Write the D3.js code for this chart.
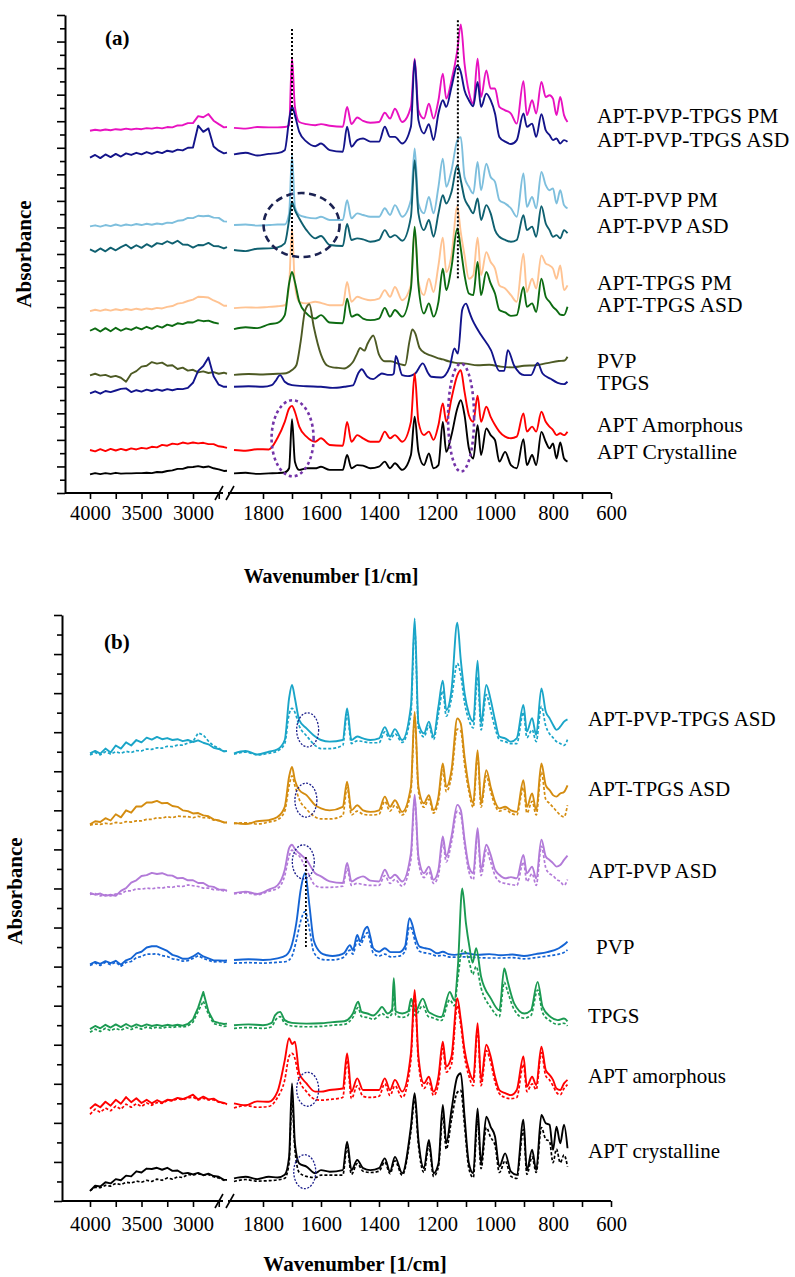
<!DOCTYPE html>
<html>
<head>
<meta charset="utf-8">
<script src="https://cdn.jsdelivr.net/npm/d3@7/dist/d3.min.js"></script>
<style>
  body { margin: 0; background: #fff; }
  svg text { font-family: "Liberation Serif", "Times New Roman", serif; fill: #000; }
</style>
</head>
<body>
<svg id="chart" width="795" height="1277"></svg>
<script>
// ---- wavenumber grids (1/cm) ----
const wnLeft = [4000, 3950, 3900, 3850, 3800, 3750, 3700, 3650, 3600, 3550, 3500, 3450, 3400, 3350,
  3300, 3250, 3200, 3150, 3100, 3050, 3000, 2950, 2900, 2850, 2800, 2750, 2700, 2670];
const wnApt = [1900, 1860, 1820, 1780, 1750, 1725, 1710, 1700, 1690, 1675, 1650, 1620, 1600, 1570, 1525, 1510, 1495,
  1475, 1455, 1430, 1400, 1380, 1362, 1345, 1320, 1290, 1277, 1264, 1245, 1228, 1212, 1195, 1180,
  1168, 1150, 1130, 1118, 1105, 1090, 1075, 1060, 1048, 1030, 1015, 1000, 985, 965, 945, 925, 902,
  890, 872, 858, 840, 825, 812, 800, 788, 775, 762, 750];
const wnPvp = [1900, 1850, 1800, 1750, 1720, 1700, 1685, 1670, 1655, 1640, 1625, 1600, 1580, 1560,
  1540, 1520, 1500, 1490, 1475, 1465, 1450, 1440, 1430, 1420, 1400, 1380, 1360, 1330, 1310, 1295,
  1285, 1275, 1260, 1240, 1220, 1200, 1180, 1160, 1140, 1100, 1060, 1020, 980, 940, 900, 860, 820,
  780, 760, 750];
const wnTpgs = [1900, 1850, 1800, 1770, 1758, 1741, 1725, 1700, 1650, 1600, 1560, 1520, 1490, 1472,
  1460, 1440, 1420, 1400, 1390, 1370, 1355, 1349, 1342, 1320, 1300, 1289, 1275, 1249, 1230, 1220,
  1185, 1156, 1140, 1128, 1113, 1100, 1088, 1077, 1065, 1048, 1014, 985, 968, 956, 934, 899, 876,
  853, 836, 808, 784, 762, 750];

// ---- panel (a): absorbance above each trace's offset ----
const namesA = ["APT-PVP-TPGS PM", "APT-PVP-TPGS ASD", "APT-PVP PM", "APT-PVP ASD", "APT-TPGS PM",
  "APT-TPGS ASD", "PVP", "TPGS", "APT Amorphous", "APT Crystalline"];
const offsetsA = [13.75, 12.75, 10.09, 9.15, 7.01, 6.26, 4.51, 4.00, 1.62, 0.74];

const aTernPmL = [-0.11, -0.07, -0.1, -0.06, -0.09, -0.05, -0.07, -0.03, -0.06, -0.03, -0.05, -0.01, -0.03, 0.01,
  -0.02, 0.03, 0.02, 0.09, 0.1, 0.18, 0.18, 0.44, 0.4, 0.52, 0.27, 0.14, 0.02, 0.03];
const aTernAsdL = [-0.12, -0.02, -0.14, 0, -0.1, 0.02, -0.08, 0.04, -0.02, 0.06, 0, 0.09, 0.02, 0.1,
  0.05, 0.14, 0.1, 0.18, 0.15, 0.25, 0.26, 1.08, 0.85, 0.98, 0.3, 0.14, 0.04, 0.07];
const aPvpPmL = [-0.05, -0.01, -0.06, 0, -0.04, 0.02, -0.03, 0.02, -0.01, 0.04, 0, 0.05, 0.01, 0.06,
  0.03, 0.09, 0.08, 0.16, 0.18, 0.27, 0.26, 0.35, 0.33, 0.35, 0.28, 0.27, 0.14, 0.13];
const aPvpAsdL = [0.02, -0.07, 0.06, -0.05, 0.09, -0.01, 0.11, 0.2, 0.06, 0.18, 0.08, 0.22, 0.12, 0.26,
  0.22, 0.33, 0.24, 0.35, 0.21, 0.2, 0.09, 0.19, 0.18, 0.27, 0.15, 0.14, 0.06, 0.11];
const aTpgsPmL = [-0.16, -0.11, -0.15, -0.1, -0.14, -0.09, -0.13, -0.08, -0.12, -0.07, -0.11, -0.06, -0.09, -0.04,
  -0.06, 0, 0.03, 0.12, 0.15, 0.22, 0.27, 0.38, 0.37, 0.35, 0.24, 0.16, 0.04, 0.04];
const aTpgsAsdL = [-0.15, -0.06, -0.18, -0.05, -0.17, -0.04, -0.15, -0.06, -0.12, -0.02, -0.1, 0, -0.08, 0.03,
  -0.03, 0.08, 0.03, 0.13, 0.1, 0.17, 0.16, 0.25, 0.21, 0.23, 0.16, 0.12, null, null];
const aPvpL = [-0.08, -0.02, -0.09, -0.06, -0.14, -0.1, -0.17, -0.32, -0.02, 0.08, 0.25, 0.28, 0.42, 0.36,
  0.4, 0.28, 0.3, 0.16, 0.21, 0.1, 0.13, 0.03, 0.07, 0.01, 0.04, -0.02, 0.02, -0.02];
const aTpgsL = [-0.25, -0.17, -0.26, -0.16, -0.2, -0.14, -0.08, -0.06, -0.2, -0.13, -0.18, -0.11, -0.16, -0.1,
  -0.15, -0.09, -0.13, -0.08, -0.09, -0.04, 0.15, 0.6, 0.78, 1.1, 0.4, 0.08, 0, 0];
const aAmorL = [0, -0.05, 0.03, -0.04, 0.04, -0.02, 0.04, -0.01, 0.06, 0.02, 0.08, 0.05, 0.12, 0.1,
  0.19, 0.16, 0.24, 0.21, 0.28, 0.24, 0.28, 0.25, 0.27, 0.22, 0.22, 0.14, 0.11, 0.08];
const aCrystL = [-0.04, 0.01, -0.03, 0.01, -0.02, 0.02, -0.01, 0, 0, 0.01, 0.01, 0.02, 0.01, 0.05,
  0.04, 0.09, 0.11, 0.17, 0.17, 0.23, 0.24, 0.27, 0.23, 0.26, 0.19, 0.15, 0.09, 0.1];

const aTernPmR = [0, -0.03, 0.03, 0.02, 0.02, 0.03, 0.1, 2.64, 0.79, 0.22, 0.14, 0.1, 0.14, 0.08, 0.04, 0.79, 0.14,
  0.39, 0.26, 0.19, 0.22, 0.57, 0.35, 0.72, 0.22, 0.79, 2.6, 0.66, 0.35, 0.91, 0.35, 1.04, 2.04,
  1.1, 1.79, 2.91, 3.89, 2.41, 1.35, 0.91, 2.6, 1.16, 2.16, 1.48, 1.48, 0.79, 0.66, 0.54, 0.16, 1.76,
  0.48, 1.04, 0.54, 1.73, 1.16, 1.23, 1.1, 0.48, 1.16, 0.48, 0.22];
const aTernAsdR = [0, 0.06, -0.04, 0.02, 0.05, 0.16, 1.29, 1.81, 1.48, 0.85, 0.48, 0.31, 0.41, 0.16, 0.1, 1.04, 0.29,
  0.54, 0.6, 0.48, 0.48, 1.04, 0.66, 0.66, 0.41, 1.04, 3.56, 1.29, 0.79, 1.14, 0.54, 1.54, 2.04,
  1.79, 2.54, 3.35, 3.1, 2.41, 2.04, 1.81, 2.73, 1.79, 2.29, 2.04, 1.54, 0.66, 0.48, 0.39, 0.54, 1.54,
  1.04, 1.16, 0.66, 1.51, 0.91, 0.73, 0.54, 0.6, 0.41, 0.54, 0.48];
const aPvpPmR = [0, 0.02, -0.02, 0, 0.02, 0.02, 0.44, 2.63, 0.69, 0.38, 0.29, 0.25, 0.31, 0.19, 0.19, 0.94, 0.25,
  0.44, 0.38, 0.31, 0.31, 0.63, 0.38, 0.75, 0.31, 0.94, 2.88, 0.81, 0.44, 1.06, 0.44, 1.44, 2.5,
  1.44, 2.06, 3.19, 3.31, 1.81, 1.44, 1.19, 2.38, 1.31, 2.31, 1.81, 1.63, 0.94, 0.81, 0.63, 0.31, 1.94,
  0.69, 1.06, 0.63, 2.0, 1.5, 1.31, 1.38, 0.81, 1.31, 0.75, 0.63];
const aPvpAsdR = [0, -0.04, 0.05, 0.06, 0.1, 0.25, 1.13, 1.81, 1.5, 1.19, 0.75, 0.44, 0.53, 0.19, 0.15, 0.98, 0.38,
  0.44, 0.4, 0.31, 0.38, 0.75, 0.48, 0.56, 0.35, 1.25, 3.38, 1.38, 0.75, 1.13, 0.5, 1.38, 2.06,
  1.75, 2.19, 3.19, 2.63, 1.94, 1.63, 1.38, 1.94, 1.13, 1.69, 1.38, 0.75, 0.5, 0.38, 0.31, 0.38, 1.31,
  0.75, 0.88, 0.5, 1.65, 1.0, 0.75, 0.5, 0.56, 0.44, 0.75, 0.63];
const aTpgsPmR = [-0.05, -0.02, -0.03, 0, 0.02, 0.06, 0.81, 2.96, 0.81, 0.19, 0.13, 0.19, 0.15, 0.06, 0.06, 0.94, 0.19,
  0.38, 0.31, 0.25, 0.31, 0.63, 0.38, 0.75, 0.25, 0.81, 2.89, 0.94, 0.44, 1.06, 0.56, 1.56, 2.6,
  1.31, 1.94, 3.77, 2.8, 1.94, 1.06, 1.19, 2.6, 1.19, 2.06, 1.69, 1.44, 0.81, 0.69, 0.44, 0.19, 2.0,
  0.56, 1.06, 0.69, 1.94, 1.63, 1.56, 1.44, 1.06, 1.56, 0.63, 0.81];
const aTpgsAsdR = [-0.09, -0.02, -0.05, 0.09, 0.15, 0.44, 1.63, 2.06, 1.69, 0.94, 0.5, 0.31, 0.44, 0.16, 0.13, 1.06, 0.38,
  0.46, 0.31, 0.25, 0.31, 0.71, 0.38, 0.63, 0.38, 1.44, 3.77, 1.56, 0.5, 0.88, 0.38, 0.94, 2.19,
  1.38, 2.25, 3.7, 2.94, 1.94, 1.25, 1.19, 2.44, 1.19, 2.06, 1.63, 1.25, 0.63, 0.54, 0.41, 0.44, 1.5,
  0.75, 0.88, 0.56, 1.81, 1.13, 0.94, 0.75, 0.63, 0.46, 0.44, 0.75];
const aPvpR = [-0.06, -0.03, -0.05, -0.02, 0, 0.12, 0.3, 1.2, 2.35, 2.6, 1.75, 0.7, 0.3, 0.22,
  0.2, 0.18, 0.3, 0.42, 0.75, 0.95, 0.85, 1.1, 1.3, 1.42, 0.7, 0.45, 0.45, 0.35, 0.3, 1.2,
  1.65, 1.5, 0.95, 0.75, 0.66, 0.58, 0.52, 0.45, 0.4, 0.36, 0.3, 0.32, 0.25, 0.22, 0.28, 0.3, 0.38,
  0.46, 0.48, 0.62];
const aTpgsR = [0, 0.02, 0, 0.06, 0.2, 0.44, 0.19, 0.06, 0.02, 0, -0.04, 0, 0.05, 0.5,
  0.66, 0.38, 0.29, 0.44, 0.5, 0.45, 0.45, 0.5, 1.16, 0.44, 0.4, 0.42, 0.5, 0.88, 0.5, 0.38,
  0.35, 0.75, 1.44, 1.25, 2.9, 3.13, 2.8, 2.5, 2.25, 1.95, 1.38, 0.6, 0.6, 1.38, 0.8, 0.44, 0.44,
  0.9, 0.5, 0.3, 0.15, 0.1, 0.19];
const aAmorR = [0, -0.03, 0.03, 0.02, 0.45, 1.06, 1.56, 1.66, 1.44, 0.88, 0.5, 0.31, 0.44, 0.19, 0.16, 1.06, 0.31,
  0.56, 0.44, 0.31, 0.31, 0.69, 0.44, 0.56, 0.31, 1.06, 2.88, 1.06, 0.56, 0.69, 0.38, 0.94, 1.75,
  1.06, 1.94, 2.81, 3.0, 2.19, 1.31, 1.06, 2.04, 1.06, 1.63, 1.25, 0.94, 0.69, 0.5, 0.44, 0.5, 1.38,
  0.69, 0.88, 0.69, 1.44, 1.06, 0.88, 0.75, 0.56, 0.63, 0.56, 0.69];
const aCrystR = [0, 0.02, -0.02, 0, 0.01, 0.03, 0.19, 2.04, 0.44, 0.13, 0.19, 0.19, 0.25, 0.13, 0.13, 0.69, 0.19,
  0.31, 0.29, 0.19, 0.25, 0.44, 0.19, 0.38, 0.13, 0.69, 2.13, 0.81, 0.31, 0.75, 0.19, 0.31, 1.94,
  0.81, 1.44, 2.44, 2.75, 2.19, 0.94, 0.56, 1.81, 0.69, 1.69, 1.44, 1.25, 0.44, 0.81, 0.31, 0.19, 1.29,
  0.31, 0.69, 0.31, 1.56, 1.19, 0.94, 1.13, 0.56, 1.16, 0.56, 0.44];

const leftA = [aTernPmL, aTernAsdL, aPvpPmL, aPvpAsdL, aTpgsPmL, aTpgsAsdL, aPvpL, aTpgsL, aAmorL, aCrystL];
const rightA = [aTernPmR, aTernAsdR, aPvpPmR, aPvpAsdR, aTpgsPmR, aTpgsAsdR, aPvpR, aTpgsR, aAmorR, aCrystR];
const gridsA = [wnApt, wnApt, wnApt, wnApt, wnApt, wnApt, wnPvp, wnTpgs, wnApt, wnApt];

// ---- panel (b): solid and dashed spectrum for each sample ----
const namesB = ["APT-PVP-TPGS ASD", "APT-TPGS ASD", "APT-PVP ASD", "PVP", "TPGS", "APT amorphous", "APT crystalline"];
const offsetsB = [11.46, 9.68, 7.88, 6.17, 4.50, 2.50, 0.58];

const bTernSolL = [0, 0.06, -0.01, 0.12, 0.02, 0.2, 0.12, 0.28, 0.2, 0.34, 0.28, 0.4, 0.35, 0.42,
  0.36, 0.39, 0.34, 0.36, 0.31, 0.34, 0.29, 0.33, 0.27, 0.23, 0.14, 0.11, 0.05, 0.06];
const bTernDashL = [-0.04, 0.02, -0.04, 0.04, -0.02, 0.04, 0, 0.05, 0.02, 0.07, 0.06, 0.11, 0.1, 0.14,
  0.13, 0.18, 0.17, 0.21, 0.21, 0.26, 0.3, 0.52, 0.47, 0.31, 0.19, 0.13, 0.05, 0.06];
const bTgAsdSolL = [-0.04, 0.04, 0.02, 0.12, 0.06, 0.22, 0.14, 0.32, 0.26, 0.42, 0.42, 0.52, 0.52, 0.56,
  0.5, 0.51, 0.43, 0.41, 0.32, 0.3, 0.24, 0.25, 0.19, 0.17, 0.09, 0.06, 0.01, 0.01];
const bTgAsdDashL = [-0.06, -0.03, -0.04, -0.01, -0.03, 0.01, -0.01, 0.03, 0.02, 0.05, 0.05, 0.09, 0.09, 0.13,
  0.12, 0.16, 0.13, 0.17, 0.16, 0.16, 0.13, 0.17, 0.13, 0.13, 0.07, 0.06, 0.01, 0.01];
const bPvAsdSolL = [0.01, -0.04, -0.01, -0.07, -0.04, -0.07, 0.06, 0.13, 0.27, 0.33, 0.44, 0.46, 0.52, 0.49,
  0.51, 0.46, 0.45, 0.38, 0.39, 0.33, 0.33, 0.26, 0.26, 0.18, 0.16, 0.09, 0.09, 0.06];
const bPvAsdDashL = [-0.03, -0.01, -0.07, -0.04, -0.07, -0.02, -0.02, 0.06, 0.06, 0.11, 0.1, 0.13, 0.11, 0.14,
  0.13, 0.16, 0.15, 0.18, 0.17, 0.21, 0.19, 0.17, 0.13, 0.13, 0.09, 0.09, 0.06, 0.07];
const bPvpSolL = [-0.11, -0.05, -0.1, -0.03, -0.08, -0.02, -0.12, -0.01, 0.04, 0.17, 0.21, 0.32, 0.35, 0.35,
  0.29, 0.23, 0.13, 0.09, 0.03, 0.03, 0.09, 0.18, 0.09, 0.04, -0.01, -0.01, -0.02, -0.01];
const bPvpDashL = [-0.14, -0.08, -0.14, -0.06, -0.12, -0.06, -0.16, -0.06, -0.04, 0.06, 0.09, 0.15, 0.15, 0.16,
  0.11, 0.09, 0.03, 0.01, -0.03, -0.02, 0.04, 0.11, 0.04, -0.01, -0.05, -0.04, -0.06, -0.05];
const bTpgsSolL = [-0.1, -0.02, -0.08, 0.01, -0.06, 0.02, -0.05, 0.03, -0.04, 0.02, -0.03, 0.02, -0.02, 0.01,
  -0.02, 0.01, -0.01, 0.01, -0.01, 0.03, 0.15, 0.45, 0.85, 0.35, 0.1, 0.06, 0.03, 0.04];
const bTpgsDashL = [-0.18, -0.1, -0.16, -0.08, -0.14, -0.08, -0.13, -0.06, -0.11, -0.05, -0.1, -0.05, -0.08, -0.05,
  -0.08, -0.04, -0.06, -0.03, -0.05, -0.02, 0.08, 0.35, 0.62, 0.28, 0.04, 0.01, -0.03, -0.02];
const bAmorSolL = [-0.14, -0.02, -0.1, 0.04, -0.06, 0.09, -0.01, 0.16, 0.03, 0.13, 0.01, 0.09, 0, 0.08,
  0.02, 0.09, 0.08, 0.14, 0.11, 0.16, 0.22, 0.1, 0.17, 0.1, 0.12, 0.04, 0.01, -0.02];
const bAmorDashL = [-0.28, -0.15, -0.23, -0.12, -0.19, -0.07, -0.15, -0.02, -0.1, -0.01, -0.08, 0.01, -0.05, 0.02,
  0, 0.07, 0.06, 0.12, 0.09, 0.14, 0.16, 0.09, 0.13, 0.09, 0.09, 0.03, 0, -0.03];
const bCrystSolL = [-0.32, -0.19, -0.21, -0.1, -0.13, -0.02, -0.05, 0.07, 0.05, 0.18, 0.15, 0.25, 0.24, 0.27,
  0.22, 0.27, 0.19, 0.2, 0.12, 0.14, 0.1, 0.14, 0.08, 0.12, 0.06, 0.04, -0.04, -0.04];
const bCrystDashL = [-0.32, -0.23, -0.24, -0.18, -0.2, -0.13, -0.16, -0.1, -0.12, -0.07, -0.1, -0.05, -0.08, -0.02,
  -0.05, 0.01, -0.02, 0.04, 0.02, 0.1, 0.08, 0.12, 0.08, 0.1, 0.04, 0.01, -0.05, -0.04];

const bTernSolR = [0, 0.06, -0.03, 0.04, 0.1, 0.34, 1.41, 1.75, 1.41, 0.85, 0.64, 0.43, 0.34, 0.3, 0.34, 1.15, 0.34,
  0.43, 0.38, 0.34, 0.38, 0.67, 0.43, 0.62, 0.34, 1.2, 3.45, 0.77, 0.51, 0.81, 0.43, 1.2, 1.86,
  1.11, 1.62, 3.34, 2.39, 1.54, 1.02, 0.81, 2.37, 0.77, 1.75, 1.37, 0.85, 0.43, 0.38, 0.3, 0.38, 1.24,
  0.56, 0.9, 0.47, 1.66, 1.07, 0.9, 0.73, 0.6, 0.68, 0.81, 0.87];
const bTernDashR = [-0.02, 0.03, -0.04, 0, 0.06, 0.25, 1.0, 1.15, 1.05, 0.7, 0.45, 0.2, 0.12, 0.12, 0.2, 1.0, 0.25,
  0.32, 0.3, 0.27, 0.27, 0.55, 0.35, 0.5, 0.28, 1.0, 3.2, 0.65, 0.42, 0.7, 0.35, 1.0, 1.6,
  0.95, 1.4, 2.3, 2.0, 1.3, 0.85, 0.65, 1.95, 0.6, 1.5, 1.1, 0.65, 0.35, 0.3, 0.25, 0.25, 1.05,
  0.4, 0.6, 0.3, 1.2, 0.7, 0.5, 0.4, 0.3, 0.25, 0.2, 0.35];
const bTgAsdSolR = [0, -0.03, 0.04, 0.07, 0.15, 0.41, 1.18, 1.43, 1.09, 0.84, 0.71, 0.45, 0.37, 0.32, 0.41, 1.05, 0.32,
  0.45, 0.32, 0.28, 0.32, 0.67, 0.41, 0.58, 0.28, 0.92, 2.84, 0.92, 0.5, 0.71, 0.32, 0.67, 1.52,
  0.92, 1.35, 2.67, 2.54, 1.69, 0.92, 0.5, 1.86, 0.5, 1.35, 0.92, 0.54, 0.37, 0.41, 0.32, 0.28, 1.09,
  0.41, 0.75, 0.32, 1.52, 0.96, 0.84, 0.71, 0.67, 0.75, 0.79, 0.96];
const bTgAsdDashR = [-0.02, 0, -0.03, 0.02, 0.08, 0.3, 0.95, 1.2, 0.95, 0.6, 0.35, 0.15, 0.1, 0.1, 0.18, 0.9, 0.2,
  0.3, 0.22, 0.2, 0.22, 0.55, 0.3, 0.45, 0.2, 0.8, 2.7, 0.8, 0.4, 0.6, 0.25, 0.55, 1.35,
  0.8, 1.2, 2.4, 2.35, 1.5, 0.8, 0.4, 1.7, 0.4, 1.2, 0.8, 0.45, 0.3, 0.35, 0.25, 0.2, 0.9,
  0.25, 0.55, 0.2, 1.3, 0.6, 0.5, 0.4, 0.3, 0.2, 0.15, 0.45];
const bPvAsdSolR = [0, 0.04, -0.02, 0.09, 0.2, 0.6, 1.15, 1.24, 1.13, 1.02, 0.85, 0.51, 0.43, 0.3, 0.26, 0.77, 0.3,
  0.38, 0.43, 0.32, 0.3, 0.6, 0.38, 0.47, 0.3, 1.02, 2.52, 0.94, 0.51, 0.68, 0.34, 0.6, 1.45,
  0.94, 1.45, 2.26, 2.13, 1.37, 0.68, 0.51, 1.66, 0.6, 1.24, 0.98, 0.6, 0.47, 0.38, 0.41, 0.38, 0.98,
  0.51, 0.68, 0.38, 1.37, 0.94, 0.85, 0.77, 0.68, 0.72, 0.85, 0.96];
const bPvAsdDashR = [-0.02, 0.01, -0.04, 0.05, 0.12, 0.45, 0.95, 1.1, 1.02, 0.95, 0.6, 0.2, 0.15, 0.15, 0.18, 0.62, 0.2,
  0.25, 0.22, 0.2, 0.2, 0.45, 0.25, 0.35, 0.18, 0.85, 2.4, 0.8, 0.4, 0.55, 0.25, 0.45, 1.3,
  0.8, 1.3, 2.1, 2.0, 1.25, 0.55, 0.35, 1.5, 0.45, 1.1, 0.8, 0.45, 0.3, 0.25, 0.22, 0.2, 0.8,
  0.3, 0.5, 0.2, 1.2, 0.65, 0.5, 0.45, 0.35, 0.3, 0.2, 0.35];
const bPvpSolR = [0, 0.02, 0, 0.04, 0.12, 0.4, 0.95, 1.8, 2.22, 1.4, 0.5, 0.18, 0.12, 0.1,
  0.12, 0.18, 0.38, 0.25, 0.64, 0.47, 0.77, 0.85, 0.6, 0.3, 0.21, 0.3, 0.2, 0.2, 0.35, 1.07,
  0.9, 0.6, 0.34, 0.3, 0.26, 0.17, 0.21, 0.15, 0.13, 0.17, 0.13, 0.15, 0.12, 0.14, 0.1, 0.15, 0.2,
  0.3, 0.4, 0.47];
const bPvpDashR = [-0.08, -0.07, -0.08, -0.06, -0.04, 0.1, 0.5, 1.0, 1.24, 0.8, 0.2, 0.02, 0, 0,
  0.02, 0.08, 0.25, 0.15, 0.5, 0.38, 0.6, 0.7, 0.45, 0.18, 0.1, 0.15, 0.08, 0.1, 0.22, 0.85,
  0.75, 0.45, 0.22, 0.18, 0.15, 0.1, 0.12, 0.08, 0.07, 0.08, 0.06, 0.05, 0.05, 0.06, 0.03, 0.06, 0.1,
  0.15, 0.2, 0.26];
const bTpgsSolR = [0, 0.02, 0, 0.06, 0.26, 0.34, 0.13, 0.06, 0.04, 0.05, 0.08, 0.1, 0.3, 0.6,
  0.34, 0.3, 0.25, 0.38, 0.47, 0.3, 0.4, 1.2, 0.35, 0.3, 0.35, 0.68, 0.35, 0.68, 0.35, 0.3,
  0.21, 0.85, 0.64, 1.5, 3.5, 2.6, 2.0, 1.6, 1.97, 1.24, 0.68, 0.38, 1.45, 1.11, 0.56, 0.3, 0.38,
  1.11, 0.47, 0.21, 0.13, 0.17, 0.1];
const bTpgsDashR = [-0.08, -0.06, -0.08, -0.04, 0.12, 0.22, 0.05, -0.02, -0.04, -0.03, 0, 0.02, 0.2, 0.45,
  0.22, 0.2, 0.15, 0.25, 0.3, 0.2, 0.3, 0.85, 0.25, 0.2, 0.25, 0.5, 0.25, 0.5, 0.22, 0.2,
  0.12, 0.65, 0.5, 1.2, 1.92, 1.85, 1.6, 1.3, 1.5, 0.95, 0.45, 0.22, 1.1, 0.85, 0.4, 0.18, 0.25,
  0.9, 0.32, 0.1, 0.02, 0.05, -0.02];
const bAmorSolR = [0, -0.05, 0.05, 0.04, 0.3, 1.1, 1.67, 1.52, 1.58, 0.77, 0.51, 0.3, 0.3, 0.34, 0.38, 1.28, 0.3,
  0.64, 0.34, 0.34, 0.34, 0.64, 0.34, 0.6, 0.3, 1.28, 2.9, 1.2, 0.51, 0.68, 0.3, 0.68, 1.58,
  0.94, 1.2, 2.69, 2.14, 1.37, 0.85, 0.6, 2.05, 0.6, 1.5, 1.2, 0.68, 0.34, 0.26, 0.21, 0.34, 1.2,
  0.43, 0.68, 0.47, 1.45, 0.85, 0.73, 0.6, 0.38, 0.34, 0.51, 0.6];
const bAmorDashR = [-0.12, -0.06, -0.1, -0.08, 0.15, 0.6, 1.2, 1.28, 1.15, 0.6, 0.3, 0.1, 0.08, 0.1, 0.15, 1.1, 0.12,
  0.45, 0.18, 0.15, 0.18, 0.5, 0.2, 0.45, 0.15, 1.1, 2.75, 1.05, 0.38, 0.55, 0.2, 0.5, 1.4,
  0.8, 1.0, 2.5, 2.0, 1.2, 0.7, 0.45, 1.9, 0.45, 1.35, 1.05, 0.55, 0.25, 0.15, 0.12, 0.15, 1.0,
  0.3, 0.5, 0.35, 1.3, 0.7, 0.6, 0.45, 0.28, 0.22, 0.38, 0.48];
const bCrystSolR = [0, 0.04, -0.02, 0.04, 0.02, 0.09, 0.55, 2.43, 0.9, 0.38, 0.3, 0.13, 0.21, 0.17, 0.21, 0.94, 0.21,
  0.47, 0.26, 0.21, 0.26, 0.51, 0.17, 0.55, 0.13, 1.32, 2.18, 0.98, 0.26, 0.98, 0.13, 0.38, 1.88,
  0.9, 1.75, 2.6, 2.69, 1.58, 0.38, 0.13, 1.79, 0.38, 1.58, 1.32, 1.07, 0.3, 0.64, 0.17, 0.09, 1.5,
  0.21, 0.73, 0.21, 1.62, 1.41, 1.37, 0.73, 1.32, 0.9, 1.37, 0.77];
const bCrystDashR = [-0.08, -0.03, -0.07, -0.06, -0.04, 0, 0.4, 2.0, 0.75, 0.15, 0.05, 0.02, 0.08, 0.08, 0.08, 0.8, 0.1,
  0.38, 0.18, 0.15, 0.18, 0.42, 0.12, 0.45, 0.08, 1.2, 2.0, 0.85, 0.15, 0.85, 0.05, 0.3, 1.6,
  0.75, 1.5, 2.2, 2.25, 1.35, 0.25, 0.02, 1.5, 0.25, 1.3, 1.05, 0.85, 0.15, 0.45, 0.05, 0, 1.25,
  0.1, 0.55, 0.15, 1.3, 1.0, 0.95, 0.4, 0.75, 0.4, 0.6, 0.3];

const solidLeftB = [bTernSolL, bTgAsdSolL, bPvAsdSolL, bPvpSolL, bTpgsSolL, bAmorSolL, bCrystSolL];
const dashLeftB = [bTernDashL, bTgAsdDashL, bPvAsdDashL, bPvpDashL, bTpgsDashL, bAmorDashL, bCrystDashL];
const solidRightB = [bTernSolR, bTgAsdSolR, bPvAsdSolR, bPvpSolR, bTpgsSolR, bAmorSolR, bCrystSolR];
const dashRightB = [bTernDashR, bTgAsdDashR, bPvAsdDashR, bPvpDashR, bTpgsDashR, bAmorDashR, bCrystDashR];
const gridsB = [wnApt, wnApt, wnApt, wnPvp, wnTpgs, wnApt, wnApt];

// ---- annotations: [wavenumber, absorbance] ----
const guidesA = [[1700, 8.96, 17.55], [1128, 8.09, 17.81]];   // wn, from, to
const guidesB = [[1652, 6.5, 8.83]];
const circlesA = [[1667, 10.09, "navy"], [1698, 2.06, "purple"], [1117, 2.84, "purpleTall"]];
const circlesB = [[1646, 12.06], [1652, 10.26], [1661, 8.68], [1646, 2.86], [1656, 0.75]];

// ---- styles and layout ----
const colorsA = ["#e812c0", "#14148a", "#7ebfdd", "#0f6070", "#ffc392", "#0d6b12", "#4d5a24", "#12148c", "#ff0000", "#000000"];
const colorsB = ["#1aa5c8", "#d48c10", "#b27ad8", "#1464d4", "#1b9a52", "#ff0000", "#000000"];
const labelYA = [123.3, 146.7, 206.7, 233.3, 290, 311.7, 368.3, 390, 431.7, 459.3];
const labelYB = [726, 796, 878.3, 954.3, 1022.7, 1083.3, 1158.3];
const labelXB = [588, 588, 588, 596, 588, 588, 588];
const ellipseStyle = {
  navy: { rx: 38, ry: 32, color: "#1b2252", width: 2.6, dash: "7,4.5" },
  purple: { rx: 21, ry: 38, color: "#7434a8", width: 2.6, dash: "3,3" },
  purpleTall: { rx: 13, ry: 54, color: "#7434a8", width: 2.6, dash: "3,3" }
};

const svg = d3.select("#chart");

const xLeft = d3.scaleLinear().domain([4000, 3000]).range([90, 193]);
const xRight = d3.scaleLinear().domain([1800, 600]).range([263, 611]);

function drawAxes(g, y, axisX, bottom, top, yMax, labelDy) {
  // y axis: long ticks on whole units, short ones on halves
  g.append("g").attr("transform", `translate(${axisX},0)`)
    .call(d3.axisLeft(y).tickValues(d3.range(0, yMax + 0.01, 1)).tickSize(8).tickSizeOuter(0).tickFormat(""))
    .call(a => a.select(".domain").attr("stroke-width", 2));
  g.append("g").attr("transform", `translate(${axisX},0)`)
    .call(d3.axisLeft(y).tickValues(d3.range(0.5, yMax, 1)).tickSize(5).tickFormat(""))
    .call(a => a.select(".domain").remove());
  g.selectAll(".tick line").attr("stroke-width", 1.6);

  // x axis in two pieces with a break between them
  const gl = g.append("g").attr("transform", `translate(0,${bottom})`)
    .call(d3.axisBottom(xLeft).tickValues([4000, 3750, 3500, 3250, 3000, 2750]).tickSize(6)
      .tickFormat(d => d % 500 === 0 ? d : ""));
  const gr = g.append("g").attr("transform", `translate(0,${bottom})`)
    .call(d3.axisBottom(xRight).tickValues(d3.range(1800, 599, -100)).tickSize(6)
      .tickFormat(d => d % 200 === 0 ? d : ""));
  [gl, gr].forEach(a => {
    a.attr("font-family", '"Liberation Serif", serif');
    a.select(".domain").remove();
    a.selectAll(".tick line").attr("stroke-width", 1.6);
    a.selectAll(".tick text").attr("y", labelDy).attr("dy", 0)
      .style("font-size", "20.5px").style("font-family", '"Liberation Serif", serif');
  });
  const axisLine = [[axisX, 223], [228, xRight(600)]];
  axisLine.forEach(([x0, x1]) => {
    g.append("line").attr("x1", x0).attr("x2", x1).attr("y1", bottom).attr("y2", bottom)
      .attr("stroke", "#000").attr("stroke-width", 2);
  });
  [219, 230].forEach(cx => {
    g.append("line").attr("x1", cx - 4).attr("y1", bottom + 7).attr("x2", cx + 4).attr("y2", bottom - 7)
      .attr("stroke", "#000").attr("stroke-width", 1.6);
  });
}

function traceLine(xs, y, offset, curve) {
  return d3.line()
    .defined(d => d[1] != null)
    .x(d => xs(d[0]))
    .y(d => y(offset + d[1]))
    .curve(curve);
}

function drawTrace(g, y, offset, leftVals, grid, rightVals, color, width, dash) {
  const leftPts = wnLeft.map((w, j) => [w, leftVals[j]]);
  const rightPts = grid.map((w, j) => [w, rightVals[j]]);
  [[leftPts, xLeft, d3.curveLinear], [rightPts, xRight, d3.curveMonotoneX]].forEach(([pts, xs, curve]) => {
    g.append("path").datum(pts)
      .attr("d", traceLine(xs, y, offset, curve))
      .attr("fill", "none").attr("stroke", color).attr("stroke-width", width)
      .attr("stroke-linejoin", "round")
      .attr("stroke-dasharray", dash || null);
  });
}

// ---------- panel (a) ----------
const yA = d3.scaleLinear().domain([0, 18]).range([493, 15]);
const gA = svg.append("g");
drawAxes(gA, yA, 65, 493, 15, 18, 27);

namesA.forEach((name, i) => {
  drawTrace(gA, yA, offsetsA[i], leftA[i], gridsA[i], rightA[i], colorsA[i], 1.9);
  gA.append("text").attr("x", 597).attr("y", labelYA[i]).style("font-size", "21.5px").text(name);
});

guidesA.forEach(([wn, v0, v1]) => {
  gA.append("line").attr("x1", xRight(wn)).attr("x2", xRight(wn)).attr("y1", yA(v0)).attr("y2", yA(v1))
    .attr("stroke", "#000").attr("stroke-width", 2).attr("stroke-dasharray", "2,2");
});
circlesA.forEach(([wn, v, kind]) => {
  const s = ellipseStyle[kind];
  gA.append("ellipse").attr("cx", xRight(wn)).attr("cy", yA(v)).attr("rx", s.rx).attr("ry", s.ry)
    .attr("fill", "none").attr("stroke", s.color).attr("stroke-width", s.width).attr("stroke-dasharray", s.dash);
});

gA.append("text").attr("x", 105).attr("y", 45).style("font-size", "21px").style("font-weight", "bold").text("(a)");
gA.append("text").attr("x", 331).attr("y", 583).attr("text-anchor", "middle")
  .style("font-size", "20px").style("font-weight", "bold").text("Wavenumber [1/cm]");
gA.append("text").attr("transform", "translate(31,254) rotate(-90)").attr("text-anchor", "middle")
  .style("font-size", "21px").style("font-weight", "bold").text("Absorbance");

// ---------- panel (b) ----------
const yB = d3.scaleLinear().domain([0, 15]).range([1201, 615]);
const gB = svg.append("g");
drawAxes(gB, yB, 62, 1201, 615, 15, 30);

namesB.forEach((name, i) => {
  drawTrace(gB, yB, offsetsB[i], dashLeftB[i], gridsB[i], dashRightB[i], colorsB[i], 1.7, "3,2");
  drawTrace(gB, yB, offsetsB[i], solidLeftB[i], gridsB[i], solidRightB[i], colorsB[i], 1.9);
  gB.append("text").attr("x", labelXB[i]).attr("y", labelYB[i]).style("font-size", "21px").text(name);
});

guidesB.forEach(([wn, v0, v1]) => {
  gB.append("line").attr("x1", xRight(wn)).attr("x2", xRight(wn)).attr("y1", yB(v0)).attr("y2", yB(v1))
    .attr("stroke", "#000").attr("stroke-width", 1.8).attr("stroke-dasharray", "2,2");
});
circlesB.forEach(([wn, v]) => {
  gB.append("ellipse").attr("cx", xRight(wn)).attr("cy", yB(v)).attr("rx", 11).attr("ry", 17)
    .attr("fill", "none").attr("stroke", "#1c1f8c").attr("stroke-width", 1.3).attr("stroke-dasharray", "2,1.5");
});

gB.append("text").attr("x", 104).attr("y", 649).style("font-size", "21px").style("font-weight", "bold").text("(b)");
gB.append("text").attr("x", 355).attr("y", 1271).attr("text-anchor", "middle")
  .style("font-size", "21px").style("font-weight", "bold").text("Wavenumber [1/cm]");
gB.append("text").attr("transform", "translate(22,891) rotate(-90)").attr("text-anchor", "middle")
  .style("font-size", "21px").style("font-weight", "bold").text("Absorbance");
</script>
</body>
</html>
